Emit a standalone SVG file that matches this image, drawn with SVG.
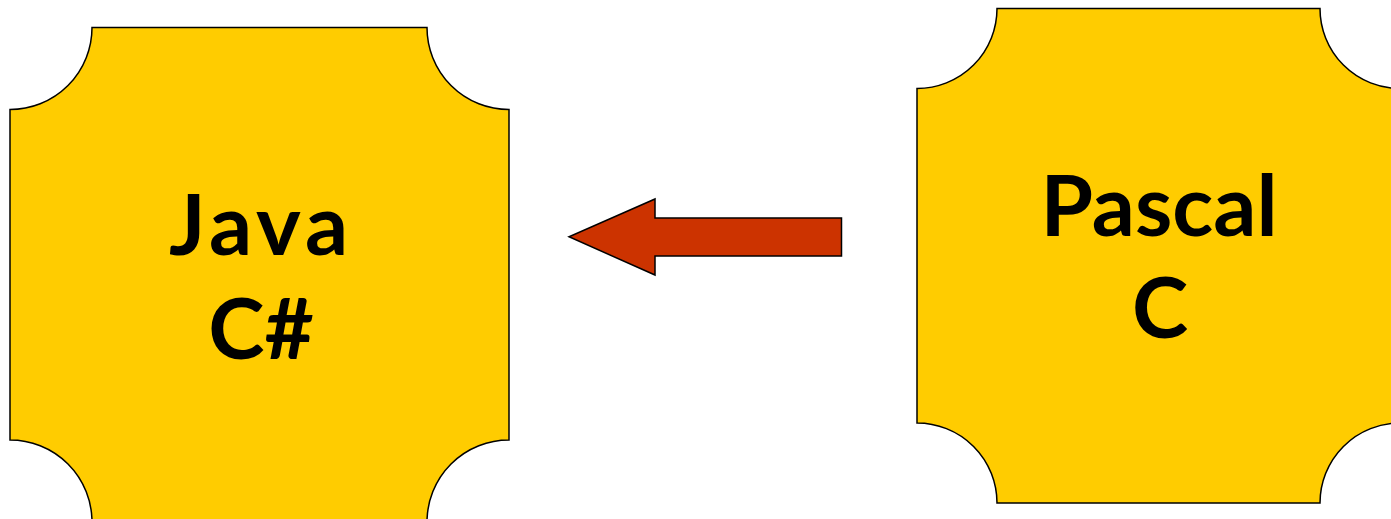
<svg xmlns="http://www.w3.org/2000/svg" width="1391" height="519" viewBox="0 0 1391 519">
<style>
.plaque{fill:#FFCC00;stroke:#000;stroke-width:1.5}
.lbl{font-family:Lato,"Open Sans","Liberation Sans",sans-serif;font-weight:bold;font-size:85px;fill:#000;text-anchor:middle}
.arrow{fill:#CC3300;stroke:#000;stroke-width:1.5;stroke-linejoin:miter}
</style>
<rect width="1391" height="519" fill="#fff"/>
<g id="java">
<path class="plaque" d="M92,27.5 H427 A82,82 0 0 0 509,109.5 V440 A82,82 0 0 0 427,522 H92 A82,82 0 0 0 10,440 V109.5 A82,82 0 0 0 92,27.5 Z"/>
<text class="lbl" x="261" y="255" letter-spacing="5">Java</text>
<text class="lbl" x="261" y="359">C#</text>
</g>
<g id="pascal">
<path class="plaque" d="M997,8.5 H1320 A80,80 0 0 0 1400,88.5 V423 A80,80 0 0 0 1320,503 H997 A80,80 0 0 0 917,423 V88.5 A80,80 0 0 0 997,8.5 Z"/>
<text class="lbl" x="1159" y="236">Pascal</text>
<text class="lbl" x="1160" y="338">C</text>
</g>
<g id="connectors">
<path class="arrow" d="M841.5,218 V256 H655 V275 L569,236.8 L655,199 V218 Z"/>
</g>
</svg>
